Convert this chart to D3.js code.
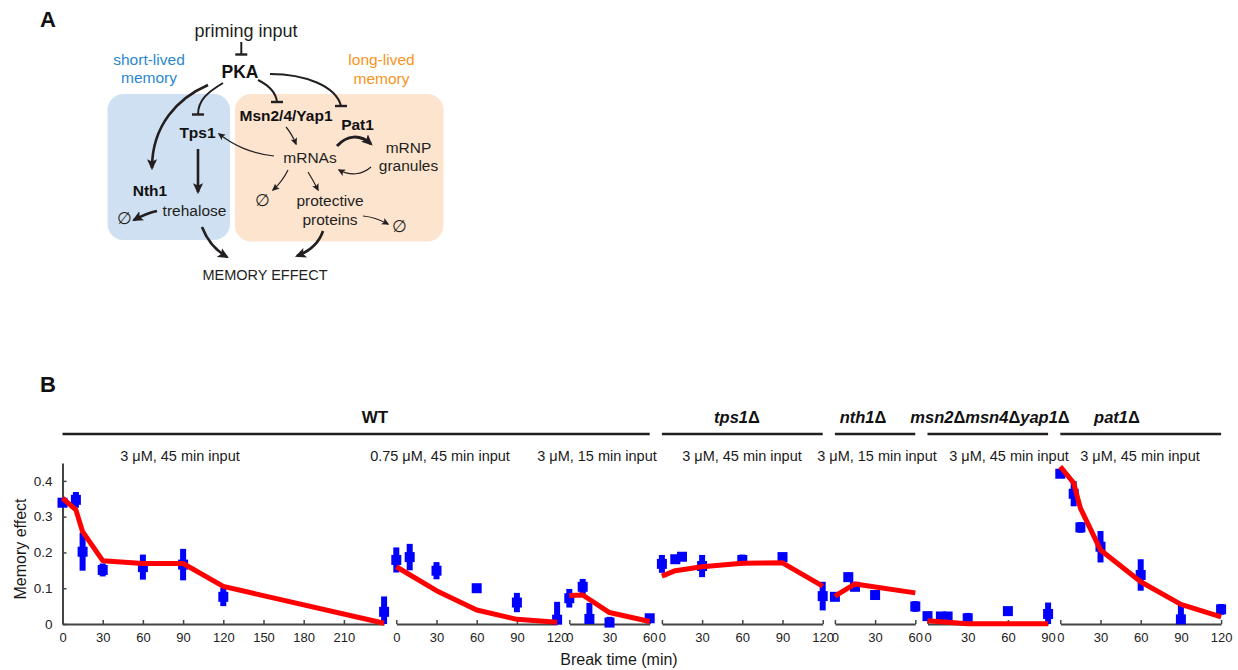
<!DOCTYPE html>
<html>
<head>
<meta charset="utf-8">
<script src="https://cdn.jsdelivr.net/npm/d3@7"></script>
<style>
  html, body { margin: 0; padding: 0; background: #fff; }
  svg { display: block; }
</style>
</head>
<body>
<svg id="fig" width="1238" height="670"></svg>
<script>
// ---------------- Panel B data ----------------
// Length of each break-time axis (min)
const panelSpan = [240, 120, 60, 120, 60, 90, 120];
const panelInput = [
  "3 \u03bcM, 45 min input", "0.75 \u03bcM, 45 min input", "3 \u03bcM, 15 min input",
  "3 \u03bcM, 45 min input", "3 \u03bcM, 15 min input", "3 \u03bcM, 45 min input",
  "3 \u03bcM, 45 min input"
];
const panelTicks = [
  [0, 30, 60, 90, 120, 150, 180, 210],
  [0, 30, 60, 90, 120],
  [0, 30, 60],
  [0, 30, 60, 90, 120],
  [0, 30, 60],
  [0, 30, 60, 90],
  [0, 30, 60, 90, 120]
];
const strainNames = ["WT", "tps1\u0394", "nth1\u0394", "msn2\u0394msn4\u0394yap1\u0394", "pat1\u0394"];
const strainFirstPanel = [0, 3, 4, 5, 6];
const strainLastPanel = [2, 3, 4, 5, 6];
const yTicks = [0, 0.1, 0.2, 0.3, 0.4];

// WT, 3 uM 45 min
const wt45Time = [0, 10, 15, 30, 60, 90, 120, 240];
const wt45Mean = [0.339, 0.347, 0.202, 0.151, 0.159, 0.166, 0.076, 0.034];
const wt45Err  = [0.010, 0.022, 0.053, 0.018, 0.035, 0.044, 0.026, 0.043];
const wt45FitTime = [0, 10, 15, 30, 60, 90, 120, 240];
const wt45Fit  = [0.352, 0.319, 0.258, 0.177, 0.169, 0.169, 0.105, 0.002];

// WT, 0.75 uM 45 min
const wt075Time = [0, 10, 30, 60, 90, 120];
const wt075Mean = [0.179, 0.187, 0.149, 0.100, 0.060, 0.012];
const wt075Err  = [0.035, 0.037, 0.024, 0.010, 0.027, 0.050];
const wt075FitTime = [0, 30, 60, 90, 120];
const wt075Fit  = [0.160, 0.093, 0.039, 0.013, 0.005];

// WT, 3 uM 15 min
const wt15Time = [0, 10, 15, 30, 60];
const wt15Mean = [0.072, 0.104, 0.014, 0.004, 0.016];
const wt15Err  = [0.026, 0.022, 0.045, 0.016, 0.006];
const wt15FitTime = [0, 10, 30, 60];
const wt15Fit  = [0.080, 0.081, 0.032, 0.007];

// tps1 deletion
const tps1Time = [0, 10, 15, 30, 60, 90, 120];
const tps1Mean = [0.168, 0.181, 0.188, 0.162, 0.179, 0.187, 0.078];
const tps1Err  = [0.025, 0.010, 0.010, 0.031, 0.015, 0.008, 0.040];
const tps1FitTime = [0, 10, 30, 60, 90, 120];
const tps1Fit  = [0.134, 0.149, 0.160, 0.170, 0.171, 0.106];

// nth1 deletion
const nth1Time = [0, 10, 15, 30, 60];
const nth1Mean = [0.076, 0.131, 0.104, 0.081, 0.049];
const nth1Err  = [0.008, 0.012, 0.008, 0.012, 0.015];
const nth1FitTime = [0, 15, 60];
const nth1Fit  = [0.078, 0.112, 0.087];

// msn2 msn4 yap1 deletion
const msnTime = [0, 10, 15, 30, 60, 90];
const msnMean = [0.022, 0.021, 0.021, 0.016, 0.036, 0.028];
const msnErr  = [0.006, 0.012, 0.008, 0.015, 0.006, 0.032];
const msnFitTime = [0, 30, 60, 90];
const msnFit  = [0.009, 0.001, 0.001, 0.001];

// pat1 deletion
const pat1Time = [0, 10, 15, 30, 60, 90, 120];
const pat1Mean = [0.420, 0.364, 0.270, 0.216, 0.137, 0.013, 0.041];
const pat1Err  = [0.008, 0.035, 0.015, 0.044, 0.044, 0.040, 0.015];
const pat1FitTime = [0, 10, 15, 30, 60, 90, 120];
const pat1Fit  = [0.440, 0.394, 0.324, 0.207, 0.118, 0.055, 0.020];

const measTime = [wt45Time, wt075Time, wt15Time, tps1Time, nth1Time, msnTime, pat1Time];
const measMean = [wt45Mean, wt075Mean, wt15Mean, tps1Mean, nth1Mean, msnMean, pat1Mean];
const measErr  = [wt45Err, wt075Err, wt15Err, tps1Err, nth1Err, msnErr, pat1Err];
const fitTime  = [wt45FitTime, wt075FitTime, wt15FitTime, tps1FitTime, nth1FitTime, msnFitTime, pat1FitTime];
const fitValue = [wt45Fit, wt075Fit, wt15Fit, tps1Fit, nth1Fit, msnFit, pat1Fit];

// ---------------- Layout & style ----------------
const FONT = '"Liberation Sans", Arial, Helvetica, sans-serif';
const INK = "#231f20";
const inputLabelX = [180, 440, 597, 742, 877, 1009, 1140];
const strainLabelX = [375, 737, 863, 990, 1117];

const svg = d3.select("#fig").attr("font-family", FONT);

// ---------------- Panel A: schematic ----------------
const defs = svg.append("defs");
function headMarker(id, size) {
  defs.append("marker")
    .attr("id", id)
    .attr("viewBox", "0 -5 10 10")
    .attr("refX", 8).attr("refY", 0)
    .attr("markerWidth", size).attr("markerHeight", size)
    .attr("markerUnits", "userSpaceOnUse")
    .attr("orient", "auto")
    .append("path")
    .attr("d", "M0,-4.6L10,0L0,4.6L2.2,0Z")
    .attr("fill", INK);
}
headMarker("headThick", 11);
headMarker("headThin", 7.5);

const A = svg.append("g");
A.append("text").attr("x", 40).attr("y", 27).attr("font-size", 22).attr("font-weight", "bold").attr("fill", "#111").text("A");

A.append("rect").attr("x", 107.5).attr("y", 94).attr("width", 122.5).attr("height", 146)
  .attr("rx", 16).attr("fill", "#cfe0f2");
A.append("rect").attr("x", 235).attr("y", 94).attr("width", 208.5).attr("height", 147.5)
  .attr("rx", 16).attr("fill", "#fde4cf");

// activating arrows: [path, width, marker]
const arrows = [
  ["M208,85 C178,98 152,125 152,168", 2.6, "headThick"],      // PKA -> Nth1
  ["M198,149 L198,192", 2.6, "headThick"],                    // Tps1 -> trehalose
  ["M157,211 Q147,213 134,220", 2.6, "headThick"],            // trehalose -> degradation
  ["M202,227 C207,240 215,250 227,257", 2.6, "headThick"],    // trehalose -> memory
  ["M323,231 C319,243 310,251 297,256", 2.6, "headThick"],    // proteins -> memory
  ["M337,146 C347,135 360,134 371,144", 3, "headThick"],      // mRNAs -> granules
  ["M286,127 Q292,134 296,144", 1.2, "headThin"],             // Msn2/4/Yap1 -> mRNAs
  ["M274,156 C250,153 235,146 219,134", 1.2, "headThin"],     // mRNAs -> Tps1
  ["M371,167 C362,175 350,176 339,170", 1.2, "headThin"],     // granules -> mRNAs
  ["M288,170 Q282,182 273,190", 1.2, "headThin"],             // mRNAs -> degradation
  ["M308,172 Q313,180 318,190", 1.2, "headThin"],             // mRNAs -> proteins
  ["M363,216 Q375,217 388,224", 1.2, "headThin"]              // proteins -> degradation
];
A.selectAll("path.act").data(arrows).join("path")
  .attr("class", "act")
  .attr("d", d => d[0]).attr("fill", "none").attr("stroke", INK)
  .attr("stroke-width", d => d[1]).attr("marker-end", d => `url(#${d[2]})`);

// inhibitory links ending in a bar: [path, bar centre x, bar y]
const inhibitors = [
  ["M241.3,42 L241.3,54.5", 241.3, 54.5],                 // priming input -| PKA
  ["M223,83 C208,92 198,100 198,114.5", 198, 114.5],      // PKA -| Tps1
  ["M258,80 C268,85 276,92 277,102", 277, 102],           // PKA -| Msn2/4/Yap1
  ["M270,74 C305,74 336,86 341,106", 341, 106]            // PKA -| Pat1
];
A.selectAll("path.inh").data(inhibitors).join("path")
  .attr("class", "inh")
  .attr("d", d => d[0]).attr("fill", "none").attr("stroke", INK).attr("stroke-width", 2);
A.selectAll("line.bar").data(inhibitors).join("line")
  .attr("class", "bar")
  .attr("x1", d => d[1] - 6).attr("x2", d => d[1] + 6)
  .attr("y1", d => d[2]).attr("y2", d => d[2])
  .attr("stroke", INK).attr("stroke-width", 2.4);

// labels: [text, x, y, size, weight, colour]
const blueText = "#2b88cf", orangeText = "#f7941d";
const nodeLabels = [
  ["priming input", 246, 36.5, 18, "normal", INK],
  ["PKA", 240, 78, 17.5, "bold", "#111"],
  ["short-lived", 149, 65, 15.5, "normal", blueText],
  ["memory", 149, 83, 15.5, "normal", blueText],
  ["long-lived", 381.5, 65, 15.5, "normal", orangeText],
  ["memory", 381.5, 83.5, 15.5, "normal", orangeText],
  ["Msn2/4/Yap1", 286, 120.5, 15.5, "bold", "#111"],
  ["Pat1", 357.5, 129.5, 15.5, "bold", "#111"],
  ["Tps1", 197.5, 137.5, 15.5, "bold", "#111"],
  ["Nth1", 150, 196, 15.5, "bold", "#111"],
  ["trehalose", 194.5, 216, 15.5, "normal", INK],
  ["\u2205", 124, 224, 17, "normal", INK],
  ["mRNAs", 310, 163, 15.5, "normal", INK],
  ["mRNP", 408.5, 152.5, 15.5, "normal", INK],
  ["granules", 408.5, 170.5, 15.5, "normal", INK],
  ["\u2205", 262, 206, 17, "normal", INK],
  ["protective", 330, 206, 15.5, "normal", INK],
  ["proteins", 330, 225, 15.5, "normal", INK],
  ["\u2205", 399.5, 231.5, 17, "normal", INK],
  ["MEMORY EFFECT", 265, 279.5, 14.5, "normal", INK]
];
A.selectAll("text.node").data(nodeLabels).join("text")
  .attr("class", "node")
  .attr("x", d => d[1]).attr("y", d => d[2])
  .attr("text-anchor", "middle")
  .attr("font-size", d => d[3]).attr("font-weight", d => d[4])
  .attr("fill", d => d[5])
  .text(d => d[0]);

// ---------------- Panel B: memory-effect time courses ----------------
const B = svg.append("g");
B.append("text").attr("x", 40).attr("y", 391.5).attr("font-size", 22).attr("font-weight", "bold").attr("fill", "#111").text("B");

const y = d3.scaleLinear().domain([0, 0.45]).range([624, 463]);
const pxPerMin = 1.34, panelGap = 12.2, plotLeft = 62.5;
let cursor = plotLeft;
const xScales = panelSpan.map(span => {
  const s = d3.scaleLinear().domain([0, span]).range([cursor, cursor + span * pxPerMin]);
  cursor += span * pxPerMin + panelGap;
  return s;
});

// strain headers with rules
strainNames.forEach((name, k) => {
  const x1 = xScales[strainFirstPanel[k]].range()[0];
  const x2 = xScales[strainLastPanel[k]].range()[1];
  B.append("line").attr("x1", x1).attr("x2", x2).attr("y1", 434).attr("y2", 434)
    .attr("stroke", INK).attr("stroke-width", 2.6);
  const t = B.append("text").attr("x", strainLabelX[k]).attr("y", 423)
    .attr("text-anchor", "middle").attr("font-weight", "bold")
    .attr("font-size", k === 0 ? 17 : 16.5).attr("fill", "#111");
  if (k === 0) { t.text(name); return; }
  name.split(/(\u0394)/).filter(s => s.length).forEach(part => {
    t.append("tspan").attr("font-style", part === "\u0394" ? "normal" : "italic").text(part);
  });
});

// input condition labels
B.selectAll("text.input").data(panelInput).join("text")
  .attr("class", "input")
  .attr("x", (d, i) => inputLabelX[i]).attr("y", 461)
  .attr("text-anchor", "middle").attr("font-size", 14.5).attr("fill", "#1a1a1a")
  .text(d => d);

// y axis
const yAxis = B.append("g").attr("transform", `translate(${plotLeft},0)`)
  .call(d3.axisLeft(y).tickValues(yTicks).tickSizeInner(-4).tickSizeOuter(0).tickPadding(10)
    .tickFormat(d => d === 0 ? "0" : d3.format(".1f")(d)))
  .attr("font-family", FONT).attr("font-size", 13.5);
yAxis.select(".domain").attr("stroke", "#444").attr("stroke-width", 2);
yAxis.selectAll(".tick line").attr("stroke", "#444").attr("stroke-width", 1.5);
yAxis.selectAll(".tick text").attr("fill", "#222");

// x axes, one per condition
xScales.forEach((xs, i) => {
  const g = B.append("g").attr("transform", "translate(0,624)")
    .call(d3.axisBottom(xs).tickValues(panelTicks[i]).tickSizeInner(-4).tickSizeOuter(0)
      .tickPadding(9).tickFormat(d3.format("d")))
    .attr("font-family", FONT).attr("font-size", 13);
  g.select(".domain").attr("stroke", "#444").attr("stroke-width", 2);
  g.selectAll(".tick line").attr("stroke", "#444").attr("stroke-width", 1.5);
  g.selectAll(".tick text").attr("fill", "#222");
});

// measurements: error bars and square markers
const blue = "#0000ff";
const meas = B.append("g");
xScales.forEach((xs, i) => {
  const pts = measTime[i].map((t, j) => ({ t, v: measMean[i][j], e: measErr[i][j] }));
  const g = meas.append("g");
  g.selectAll("rect.eb").data(pts).join("rect")
    .attr("class", "eb")
    .attr("x", d => xs(d.t) - 3).attr("width", 6)
    .attr("y", d => y(d.v + d.e))
    .attr("height", d => y(Math.max(0, d.v - d.e)) - y(d.v + d.e))
    .attr("fill", blue);
  g.selectAll("rect.mk").data(pts).join("rect")
    .attr("class", "mk")
    .attr("x", d => xs(d.t) - 5).attr("y", d => y(d.v) - 5)
    .attr("width", 10).attr("height", 10)
    .attr("fill", blue);
});

// model curves
const fits = B.append("g");
xScales.forEach((xs, i) => {
  const pts = fitTime[i].map((t, j) => ({ t, v: fitValue[i][j] }));
  fits.append("path")
    .datum(pts)
    .attr("d", d3.line().x(d => xs(d.t)).y(d => y(d.v)))
    .attr("fill", "none").attr("stroke", "#ff0000")
    .attr("stroke-width", 5).attr("stroke-linejoin", "round");
});

// axis titles
B.append("text").attr("transform", "translate(25.5,549) rotate(-90)")
  .attr("text-anchor", "middle").attr("font-size", 16).attr("fill", "#1a1a1a")
  .text("Memory effect");
B.append("text").attr("x", 619).attr("y", 665)
  .attr("text-anchor", "middle").attr("font-size", 16).attr("fill", "#1a1a1a")
  .text("Break time (min)");
</script>
</body>
</html>
